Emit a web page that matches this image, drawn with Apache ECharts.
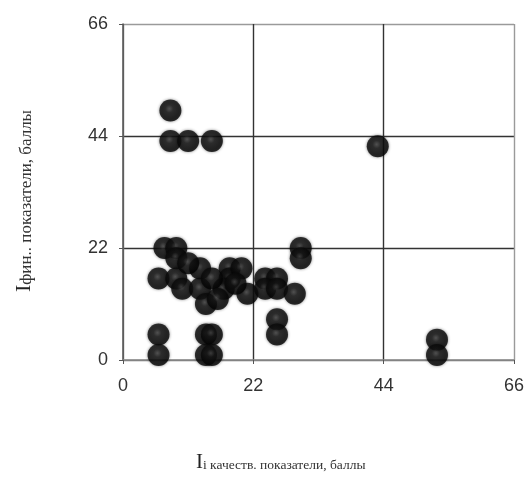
<!DOCTYPE html>
<html>
<head>
<meta charset="utf-8">
<script src="https://cdn.jsdelivr.net/npm/echarts@6/dist/echarts.min.js"></script>
<style>
html,body{margin:0;padding:0;background:#fff;}
#c{width:531px;height:477px;}
</style>
</head>
<body>
<div id="c"></div>
<script>
// Quality indicator (x) and financial indicator (y), points
const qualityScores = [8, 8, 11, 15, 43, 7, 9, 9, 13, 6, 9, 10, 13, 14, 18, 18, 17, 20, 21, 24, 26, 24, 26, 29, 30, 30, 26, 26, 6, 6, 14, 15, 14, 15, 53, 53, 11, 15, 16, 19];
const financeScores = [49, 43, 43, 43, 42, 22, 22, 20, 18, 16, 16, 14, 14, 11, 18, 16, 14, 18, 13, 16, 16, 14, 14, 13, 22, 20, 8, 5, 5, 1, 5, 5, 1, 1, 4, 1, 19, 16, 12, 15];
const tickValues = [0, 22, 44, 66];
const xTitleMain = 'I';
const xTitleRest = 'i качеств. показатели, баллы';
const yTitleMain = 'I';
const yTitleRest = 'фин.. показатели, баллы';

const points = qualityScores.map((x, i) => [x, financeScores[i]]);

const chart = echarts.init(document.getElementById('c'));
const axisCommon = {
  type: 'value',
  min: tickValues[0],
  max: tickValues[tickValues.length - 1],
  interval: tickValues[1] - tickValues[0],
  axisLabel: { color: '#333', fontFamily: 'Liberation Sans, Arial', fontSize: 18 },
  axisTick: { show: true, length: 4, lineStyle: { color: '#555' } },
  splitLine: { show: true, lineStyle: { color: ['#777', '#333', '#333', '#9a9a9a'], width: 1.4 } }
};
chart.setOption({
  animation: false,
  grid: { left: 123, right: 17, top: 24, bottom: 117 },
  xAxis: Object.assign({}, axisCommon, {
    axisLine: { show: true, lineStyle: { color: '#888', width: 1.5 } },
    axisLabel: Object.assign({}, axisCommon.axisLabel, { margin: 17 })
  }),
  yAxis: Object.assign({}, axisCommon, {
    axisLine: { show: true, lineStyle: { color: '#555', width: 1.5 } },
    axisLabel: Object.assign({}, axisCommon.axisLabel, { margin: 15 })
  }),
  series: [{
    type: 'scatter',
    data: points,
    symbolSize: 22,
    itemStyle: {
      color: {
        type: 'radial', x: 0.45, y: 0.42, r: 0.6,
        colorStops: [
          { offset: 0, color: '#444' },
          { offset: 0.3, color: '#151515' },
          { offset: 1, color: '#000' }
        ]
      },
      shadowBlur: 3,
      shadowColor: 'rgba(0,0,0,0.6)'
    }
  }],
  graphic: [
    {
      type: 'text',
      left: 196, top: 452,
      style: {
        text: '{a|' + xTitleMain + '}{b|' + xTitleRest + '}',
        rich: {
          a: { fontFamily: 'Liberation Serif, serif', fontSize: 21, fill: '#222' },
          b: { fontFamily: 'Liberation Serif, serif', fontSize: 13.5, fill: '#333', padding: [5, 0, 0, 0] }
        }
      }
    },
    {
      type: 'text',
      x: 13, y: 292,
      rotation: Math.PI / 2,
      style: {
        text: '{a|' + yTitleMain + '}{b|' + yTitleRest + '}',
        rich: {
          a: { fontFamily: 'Liberation Serif, serif', fontSize: 22, fill: '#222' },
          b: { fontFamily: 'Liberation Serif, serif', fontSize: 17, fill: '#333', padding: [5, 0, 0, 0] }
        }
      }
    }
  ]
});
</script>
</body>
</html>
